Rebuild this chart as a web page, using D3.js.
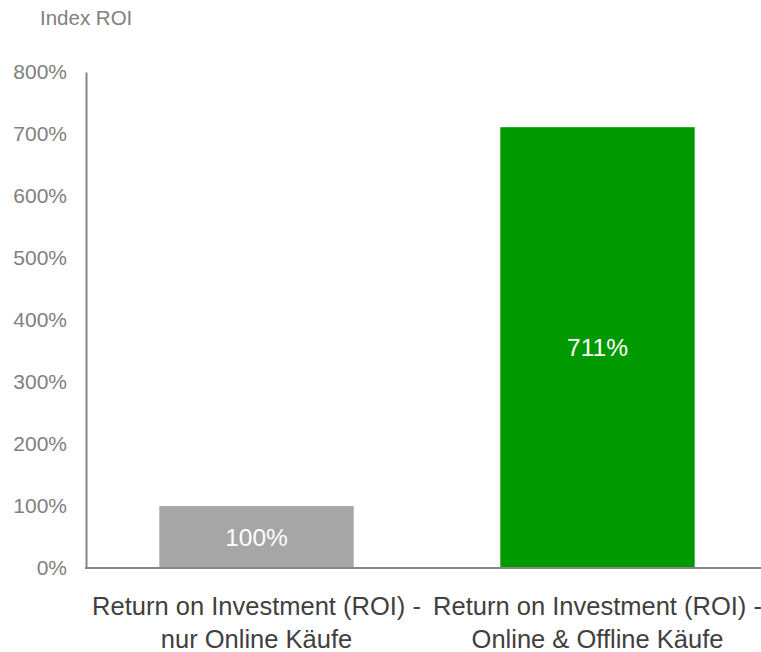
<!DOCTYPE html>
<html>
<head>
<meta charset="utf-8">
<script src="https://cdn.jsdelivr.net/npm/d3@7"></script>
<style>
  body { margin: 0; background: #fff; }
  svg { display: block; font-family: "Liberation Sans", Arial, sans-serif; }
</style>
</head>
<body>
<svg id="chart" width="761" height="652"></svg>
<script>
// chart data
const categories = [
  ["Return on Investment (ROI) -", "nur Online Käufe"],
  ["Return on Investment (ROI) -", "Online & Offline Käufe"]
];
const values = [100, 711];
const barColors = ["#a6a6a6", "#009900"];
const yTicks = [0, 100, 200, 300, 400, 500, 600, 700, 800];

const svg = d3.select("#chart");
const width = 761, height = 652;
const margin = { top: 72, left: 86, bottom: 84, right: 0 };

const x = d3.scaleBand()
  .domain(d3.range(categories.length))
  .range([margin.left, margin.left + 682])
  .paddingInner(0.43)
  .paddingOuter(0.215);

const y = d3.scaleLinear()
  .domain([0, 800])
  .range([height - margin.bottom, margin.top]);

// y axis
const yAxis = svg.append("g")
  .attr("transform", `translate(${margin.left},0)`)
  .call(d3.axisLeft(y).tickValues(yTicks).tickSize(0).tickPadding(19).tickFormat(d => d + "%"));
yAxis.select(".domain").attr("stroke", "#868686").attr("stroke-width", 2);
yAxis.selectAll("text")
  .attr("fill", "#808080")
  .style("font-size", "21px");

// bars
svg.append("g").selectAll("rect")
  .data(values).enter()
  .append("rect")
  .attr("x", (d, i) => x(i))
  .attr("width", x.bandwidth())
  .attr("y", d => y(d))
  .attr("height", d => y(0) - y(d))
  .attr("fill", (d, i) => barColors[i]);

// baseline
svg.append("line")
  .attr("x1", margin.left - 1).attr("x2", width)
  .attr("y1", y(0)).attr("y2", y(0))
  .attr("stroke", "#868686").attr("stroke-width", 2);

// value labels
svg.append("g").selectAll("text")
  .data(values).enter()
  .append("text")
  .attr("x", (d, i) => x(i) + x.bandwidth() / 2)
  .attr("y", d => (y(d) + y(0)) / 2)
  .attr("dy", "0.35em")
  .attr("text-anchor", "middle")
  .attr("fill", "#fff")
  .style("font-size", "24.5px")
  .text(d => d + "%");

// category labels
const cat = svg.append("g").selectAll("text")
  .data(categories).enter()
  .append("text")
  .attr("text-anchor", "middle")
  .attr("fill", "#404040")
  .style("font-size", "25.5px");
cat.each(function (lines, i) {
  d3.select(this).selectAll("tspan")
    .data(lines).enter()
    .append("tspan")
    .attr("x", x(i) + x.bandwidth() / 2)
    .attr("y", (d, j) => 606 + j * 33)
    .attr("dy", "0.35em")
    .text(d => d);
});

// title
svg.append("text")
  .attr("x", 40)
  .attr("y", 18)
  .attr("dy", "0.35em")
  .attr("fill", "#808080")
  .style("font-size", "20.5px")
  .text("Index ROI");
</script>
</body>
</html>
